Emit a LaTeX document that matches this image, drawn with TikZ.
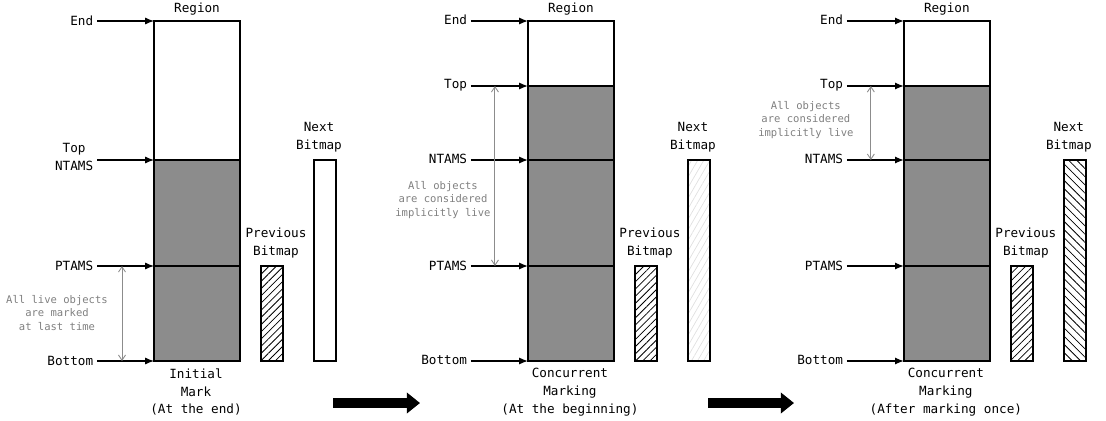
\documentclass[tikz,border=0pt]{standalone}
\usepackage{fontspec}
\setmonofont{DejaVu Sans Mono}
\usepackage{tikz}
\usetikzlibrary{positioning, arrows.meta, calc, patterns.meta}

\begin{document}
\begin{tikzpicture}[x=0.02cm, y=-0.02cm,
            lbl/.style={font=\ttfamily\fontsize{7.2}{10.2}\selectfont, align=center, inner sep=2pt},
            note/.style={font=\ttfamily\fontsize{6}{7.9}\selectfont, text=black!50, align=center, inner sep=1pt},
            ptr/.style={line width=0.7pt, -{Latex[length=5pt, width=4pt]}},
            span/.style={draw=black!45, line width=0.5pt, {Straight Barb[length=3pt, width=4pt]}-{Straight Barb[length=3pt, width=4pt]}},
            region/.style={draw=black, line width=0.85pt},
            used/.style={region, fill=black!45},
            bitmap/.style={draw=black, line width=0.85pt},
            prevhatch/.style={pattern={Lines[angle=45, distance=2.9pt, line width=0.45pt]}},
            nexthatch/.style={pattern={Lines[angle=-45, distance=3.3pt, line width=0.45pt]}},
            fainthatch/.style={pattern={Lines[angle=60, distance=3pt, line width=0.4pt]}, pattern color=black!12},
            bigarrow/.style={line width=5.7pt, -{Triangle[length=7.5pt, width=11.5pt]}}
        ]
        \useasboundingbox (0,0) rectangle (1106,420);

        % Initial Mark
        \begin{scope}
            \coordinate (endA) at (154,21);
            \coordinate (ntamsA) at (154,160);
            \coordinate (ptamsA) at (154,266);
            \coordinate (botA) at (154,361);
            \draw[region] (endA) rectangle (240,160);
            \draw[used] (ntamsA) rectangle (240,361);
            \draw[region] (ptamsA) -- (240,266);
            \node[lbl] (regA) at (197,9) {Region};

            \node[lbl, anchor=east] (lEndA) at (97,21) {End};
            \node[lbl, anchor=east] (lNtamsA) at (97,157) {Top\\NTAMS};
            \node[lbl, anchor=east] (lPtamsA) at (97,266) {PTAMS};
            \node[lbl, anchor=east] (lBotA) at (97,361) {Bottom};
            \draw[ptr] (lEndA.east) -- (endA);
            \draw[ptr] (lNtamsA.east |- ntamsA) -- (ntamsA);
            \draw[ptr] (lPtamsA.east) -- (ptamsA);
            \draw[ptr] (lBotA.east) -- (botA);

            \coordinate (spanA1) at (122,266);
            \coordinate (spanA2) at (122,361);
            \draw[span] (spanA1) -- (spanA2);
            \node[note] (noteA) at (57,313) {All live objects\\are marked\\at last time};

            \draw[bitmap, prevhatch] (261,266) rectangle (283,361);
            \node[lbl] (prevA) at (276,243) {Previous\\Bitmap};
            \draw[bitmap] (314,160) rectangle (336,361);
            \node[lbl] (nextA) at (319,137) {Next\\Bitmap};

            \node[lbl] (capA) at (196,392) {Initial\\Mark\\(At the end)};
        \end{scope}

        % Concurrent Marking, at the beginning
        \begin{scope}[xshift=7.48cm]
            \coordinate (endB) at (154,21);
            \coordinate (topB) at (154,86);
            \coordinate (ntamsB) at (154,160);
            \coordinate (ptamsB) at (154,266);
            \coordinate (botB) at (154,361);
            \draw[region] (endB) rectangle (240,86);
            \draw[used] (topB) rectangle (240,361);
            \draw[region] (ntamsB) -- (240,160);
            \draw[region] (ptamsB) -- (240,266);
            \node[lbl] (regB) at (197,9) {Region};

            \node[lbl, anchor=east] (lEndB) at (97,20) {End};
            \node[lbl, anchor=east] (lTopB) at (97,85) {Top};
            \node[lbl, anchor=east] (lNtamsB) at (97,159) {NTAMS};
            \node[lbl, anchor=east] (lPtamsB) at (97,266) {PTAMS};
            \node[lbl, anchor=east] (lBotB) at (97,360) {Bottom};
            \draw[ptr] (lEndB.east |- endB) -- (endB);
            \draw[ptr] (lTopB.east |- topB) -- (topB);
            \draw[ptr] (lNtamsB.east |- ntamsB) -- (ntamsB);
            \draw[ptr] (lPtamsB.east) -- (ptamsB);
            \draw[ptr] (lBotB.east |- botB) -- (botB);

            \coordinate (spanB1) at (121,86);
            \coordinate (spanB2) at (121,266);
            \draw[span] (spanB1) -- (spanB2);
            \node[note] (noteB) at (69,200) {All objects\\are considered\\implicitly live};

            \draw[bitmap, prevhatch] (261,266) rectangle (283,361);
            \node[lbl] (prevB) at (276,243) {Previous\\Bitmap};
            \draw[bitmap, fainthatch] (314,160) rectangle (336,361);
            \node[lbl] (nextB) at (319,137) {Next\\Bitmap};

            \node[lbl] (capB) at (196,392) {Concurrent\\Marking\\(At the beginning)};
        \end{scope}

        % Concurrent Marking, after marking once
        \begin{scope}[xshift=15cm]
            \coordinate (endC) at (154,21);
            \coordinate (topC) at (154,86);
            \coordinate (ntamsC) at (154,160);
            \coordinate (ptamsC) at (154,266);
            \coordinate (botC) at (154,361);
            \draw[region] (endC) rectangle (240,86);
            \draw[used] (topC) rectangle (240,361);
            \draw[region] (ntamsC) -- (240,160);
            \draw[region] (ptamsC) -- (240,266);
            \node[lbl] (regC) at (197,9) {Region};

            \node[lbl, anchor=east] (lEndC) at (97,20) {End};
            \node[lbl, anchor=east] (lTopC) at (97,85) {Top};
            \node[lbl, anchor=east] (lNtamsC) at (97,159) {NTAMS};
            \node[lbl, anchor=east] (lPtamsC) at (97,266) {PTAMS};
            \node[lbl, anchor=east] (lBotC) at (97,360) {Bottom};
            \draw[ptr] (lEndC.east |- endC) -- (endC);
            \draw[ptr] (lTopC.east |- topC) -- (topC);
            \draw[ptr] (lNtamsC.east |- ntamsC) -- (ntamsC);
            \draw[ptr] (lPtamsC.east) -- (ptamsC);
            \draw[ptr] (lBotC.east |- botC) -- (botC);

            \coordinate (spanC1) at (121,86);
            \coordinate (spanC2) at (121,160);
            \draw[span] (spanC1) -- (spanC2);
            \node[note] (noteC) at (56,120) {All objects\\are considered\\implicitly live};

            \draw[bitmap, prevhatch] (261,266) rectangle (283,361);
            \node[lbl] (prevC) at (276,243) {Previous\\Bitmap};
            \draw[bitmap, nexthatch] (314,160) rectangle (336,361);
            \node[lbl] (nextC) at (319,137) {Next\\Bitmap};

            \node[lbl] (capC) at (196,392) {Concurrent\\Marking\\(After marking once)};
        \end{scope}

        % Uebergaenge
        \coordinate (stepA1) at (333,403);
        \coordinate (stepA2) at (420,403);
        \coordinate (stepB1) at (708,403);
        \coordinate (stepB2) at (794,403);
        \draw[bigarrow] (stepA1) -- (stepA2);
        \draw[bigarrow] (stepB1) -- (stepB2);

    \end{tikzpicture}
\end{document}
